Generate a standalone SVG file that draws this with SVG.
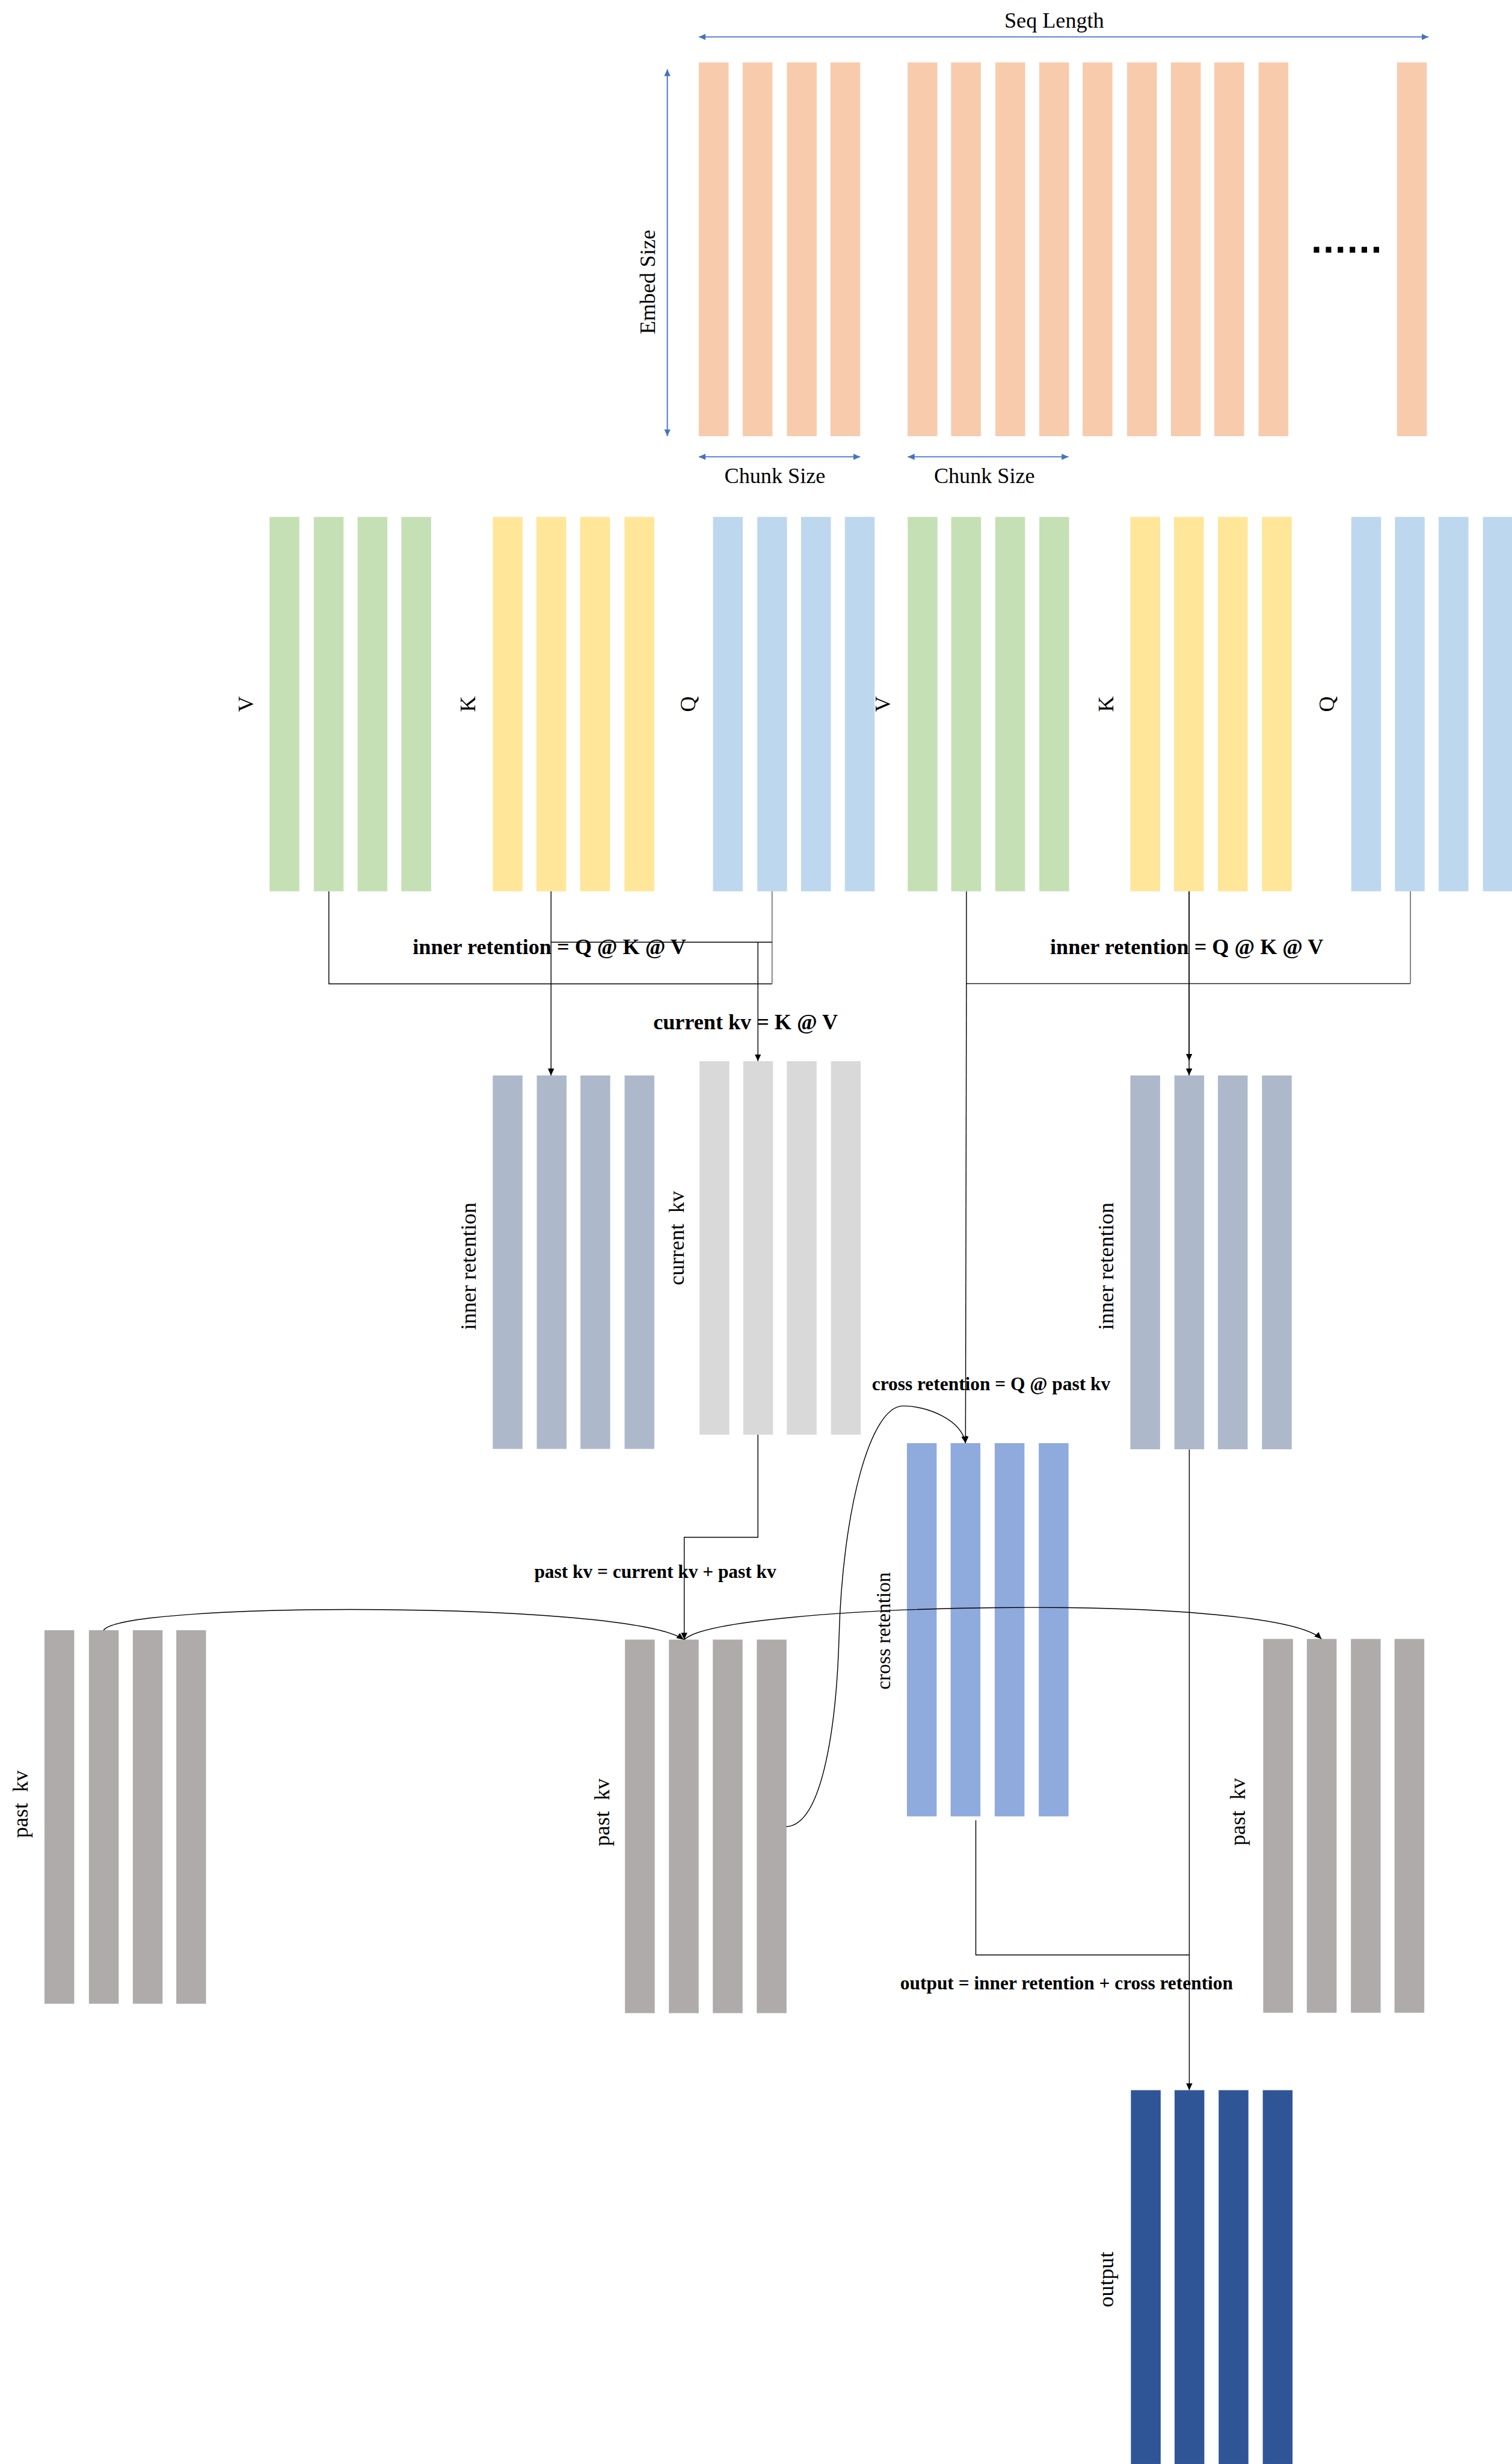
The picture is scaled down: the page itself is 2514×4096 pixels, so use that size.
<svg xmlns="http://www.w3.org/2000/svg" width="2514" height="4096" viewBox="0 0 2514 4096">
<style>
.t{font-family:"Liberation Serif","Times New Roman",serif;fill:#000}
.r{font-size:38px}
.b{font-weight:bold}
.or{fill:#F8CBAD}.gr{fill:#C5E0B4}.ye{fill:#FFE699}.bl{fill:#BDD7EE}
.ir{fill:#ADB9CA}.ck{fill:#D9D9D9}.cr{fill:#8FAADC}.pk{fill:#AFABAB}.ou{fill:#2F5597}
.ln{fill:none;stroke:#000;stroke-width:1.5}
.lg{fill:none;stroke:#7F7F7F;stroke-width:2}
.la{fill:none;stroke:#000;stroke-width:1.5;marker-end:url(#ah)}
.ba{fill:none;stroke:#4472C4;stroke-width:2;marker-start:url(#bh);marker-end:url(#bh)}
</style>
<defs>
<marker id="ah" markerUnits="userSpaceOnUse" markerWidth="14" markerHeight="12" refX="12" refY="5.5" orient="auto"><path d="M0,0 L12,5.5 L0,11 z" fill="#000"/></marker>
<marker id="bh" markerUnits="userSpaceOnUse" markerWidth="14" markerHeight="12" refX="12" refY="5.5" orient="auto-start-reverse"><path d="M0,0 L12,5.5 L0,11 z" fill="#4472C4"/></marker>
</defs>
<rect width="2514" height="4096" fill="#fff"/>
<g transform="scale(0.9516)">
<g id="sequence">
<rect class="or" x="1221" y="109" width="52" height="653"/>
<rect class="or" x="1297.7" y="109" width="52" height="653"/>
<rect class="or" x="1375" y="109" width="52" height="653"/>
<rect class="or" x="1451" y="109" width="52" height="653"/>
<rect class="or" x="1585.8" y="109" width="52" height="653"/>
<rect class="or" x="1661.8" y="109" width="52" height="653"/>
<rect class="or" x="1739.2" y="109" width="52" height="653"/>
<rect class="or" x="1815.9" y="109" width="52" height="653"/>
<rect class="or" x="1891.7" y="109" width="52" height="653"/>
<rect class="or" x="1969.3" y="109" width="52" height="653"/>
<rect class="or" x="2046" y="109" width="52" height="653"/>
<rect class="or" x="2121.8" y="109" width="52" height="653"/>
<rect class="or" x="2199" y="109" width="52" height="653"/>
<rect class="or" x="2441" y="109" width="52" height="653"/>
<text x="2291" y="441" font-family="Liberation Sans, Arial, sans-serif" font-weight="bold" font-size="68" letter-spacing="2" fill="#000">......</text>
<path class="ba" d="M1221,64.5 H2496"/>
<path class="ba" d="M1166,121 V762"/>
<path class="ba" d="M1221,798 H1503"/>
<path class="ba" d="M1586,798 H1867"/>
<text class="t r" x="1842" y="48" text-anchor="middle">Seq Length</text>
<text class="t r" transform="translate(1144,492.6) rotate(-90)" text-anchor="middle">Embed Size</text>
<text class="t r" x="1354" y="844" text-anchor="middle">Chunk Size</text>
<text class="t r" x="1720" y="844" text-anchor="middle">Chunk Size</text>
</g>
<g id="v1">
<rect class="gr" x="471" y="903" width="52" height="654"/>
<rect class="gr" x="548.3" y="903" width="52" height="654"/>
<rect class="gr" x="624.8" y="903" width="52" height="654"/>
<rect class="gr" x="701.3" y="903" width="52" height="654"/>
<text class="t r" transform="translate(442,1230) rotate(-90)" text-anchor="middle">V</text>
</g>
<g id="k1">
<rect class="ye" x="861" y="903" width="52" height="654"/>
<rect class="ye" x="937.3" y="903" width="52" height="654"/>
<rect class="ye" x="1013.8" y="903" width="52" height="654"/>
<rect class="ye" x="1091.2" y="903" width="52" height="654"/>
<text class="t r" transform="translate(830,1230) rotate(-90)" text-anchor="middle">K</text>
</g>
<g id="q1">
<rect class="bl" x="1245.8" y="903" width="52" height="654"/>
<rect class="bl" x="1323.2" y="903" width="52" height="654"/>
<rect class="bl" x="1399.7" y="903" width="52" height="654"/>
<rect class="bl" x="1476.2" y="903" width="52" height="654"/>
<text class="t r" transform="translate(1215,1230) rotate(-90)" text-anchor="middle">Q</text>
</g>
<g id="v2">
<rect class="gr" x="1586" y="903" width="52" height="654"/>
<rect class="gr" x="1662" y="903" width="52" height="654"/>
<rect class="gr" x="1739" y="903" width="52" height="654"/>
<rect class="gr" x="1816" y="903" width="52" height="654"/>
<text class="t r" transform="translate(1555,1230) rotate(-90)" text-anchor="middle">V</text>
</g>
<g id="k2">
<rect class="ye" x="1975" y="903" width="52" height="654"/>
<rect class="ye" x="2051.3" y="903" width="52" height="654"/>
<rect class="ye" x="2128" y="903" width="52" height="654"/>
<rect class="ye" x="2205" y="903" width="52" height="654"/>
<text class="t r" transform="translate(1945,1230) rotate(-90)" text-anchor="middle">K</text>
</g>
<g id="q2">
<rect class="bl" x="2361" y="903" width="52" height="654"/>
<rect class="bl" x="2437.3" y="903" width="52" height="654"/>
<rect class="bl" x="2513.8" y="903" width="52" height="654"/>
<rect class="bl" x="2591" y="903" width="52" height="654"/>
<text class="t r" transform="translate(2331,1230) rotate(-90)" text-anchor="middle">Q</text>
</g>
<g id="inner1">
<rect class="ir" x="861" y="1878.7" width="52" height="652.4"/>
<rect class="ir" x="937.9" y="1878.7" width="52" height="652.4"/>
<rect class="ir" x="1014.2" y="1878.7" width="52" height="652.4"/>
<rect class="ir" x="1091.3" y="1878.7" width="52" height="652.4"/>
<text class="t r" transform="translate(831,2212) rotate(-90)" text-anchor="middle">inner retention</text>
</g>
<g id="currentkv">
<rect class="ck" x="1222.3" y="1853.8" width="52" height="652.4"/>
<rect class="ck" x="1298.6" y="1853.8" width="52" height="652.4"/>
<rect class="ck" x="1374.8" y="1853.8" width="52" height="652.4"/>
<rect class="ck" x="1451.9" y="1853.8" width="52" height="652.4"/>
<text class="t r" transform="translate(1195,2163) rotate(-90)" text-anchor="middle" xml:space="preserve">current  kv</text>
</g>
<g id="inner2">
<rect class="ir" x="1975" y="1878.7" width="52" height="653"/>
<rect class="ir" x="2052" y="1878.7" width="52" height="653"/>
<rect class="ir" x="2128" y="1878.7" width="52" height="653"/>
<rect class="ir" x="2205" y="1878.7" width="52" height="653"/>
<text class="t r" transform="translate(1945,2212) rotate(-90)" text-anchor="middle">inner retention</text>
</g>
<g id="cross">
<rect class="cr" x="1584.6" y="2521" width="52" height="652"/>
<rect class="cr" x="1661" y="2521" width="52" height="652"/>
<rect class="cr" x="1738" y="2521" width="52" height="652"/>
<rect class="cr" x="1815" y="2521" width="52" height="652"/>
<text class="t" font-size="35" transform="translate(1555,2849) rotate(-90)" text-anchor="middle">cross retention</text>
</g>
<g id="pastkv1">
<rect class="pk" x="77.7" y="2847.8" width="52" height="652.5"/>
<rect class="pk" x="155.4" y="2847.8" width="52" height="652.5"/>
<rect class="pk" x="232.1" y="2847.8" width="52" height="652.5"/>
<rect class="pk" x="308" y="2847.8" width="52" height="652.5"/>
<text class="t r" transform="translate(48,3151.6) rotate(-90)" text-anchor="middle" xml:space="preserve">past  kv</text>
</g>
<g id="pastkv2">
<rect class="pk" x="1092" y="2864.2" width="52" height="652.5"/>
<rect class="pk" x="1168.8" y="2864.2" width="52" height="652.5"/>
<rect class="pk" x="1245.5" y="2864.2" width="52" height="652.5"/>
<rect class="pk" x="1322.3" y="2864.2" width="52" height="652.5"/>
<text class="t r" transform="translate(1064.5,3166) rotate(-90)" text-anchor="middle" xml:space="preserve">past  kv</text>
</g>
<g id="pastkv3">
<rect class="pk" x="2207.2" y="2863" width="52" height="653"/>
<rect class="pk" x="2283.4" y="2863" width="52" height="653"/>
<rect class="pk" x="2360.4" y="2863" width="52" height="653"/>
<rect class="pk" x="2436.6" y="2863" width="52" height="653"/>
<text class="t r" transform="translate(2175.5,3165) rotate(-90)" text-anchor="middle" xml:space="preserve">past  kv</text>
</g>
<g id="output">
<rect class="ou" x="1976" y="3651.3" width="52" height="653"/>
<rect class="ou" x="2052.3" y="3651.3" width="52" height="653"/>
<rect class="ou" x="2129.3" y="3651.3" width="52" height="653"/>
<rect class="ou" x="2206.4" y="3651.3" width="52" height="653"/>
<text class="t r" transform="translate(1945,3982) rotate(-90)" text-anchor="middle">output</text>
</g>
<g id="connectors">
<path class="ln" d="M574.6,1557 V1718.6 H1349"/>
<path class="lg" d="M1349,1557 V1718.6"/>
<path class="ln" d="M962.8,1646 H1349"/>
<path class="la" d="M962.8,1557 V1878.7"/>
<path class="la" d="M1324.3,1646 V1853.8"/>
<path class="ln" d="M1688.6,1557 V1718.3 H2464.4"/>
<path class="lg" d="M2464.4,1557 V1718.3"/>
<path class="la" d="M1688.6,1718 L1687,2521"/>
<path class="la" d="M2077.7,1557 V1853"/>
<path class="la" d="M2077.7,1557 V1878.7"/>
<path class="la" d="M1324.3,2506.2 V2685.4 H1195.5 V2864.2"/>
<path class="la" d="M181,2848 C215,2797 1100,2797 1194.5,2864"/>
<path class="la" d="M1196,2864 C1260,2800 2220,2780 2309,2863"/>
<path class="la" d="M1374,3191 C1440,3188 1462,3000 1466,2860 C1472,2640 1520,2456 1578,2456 C1620,2456 1680,2480 1687,2521"/>
<path class="ln" d="M1705,3180 V3415 H2078"/>
<path class="la" d="M2078,2532 V3651.3"/>
</g>
<g id="labels">
<text class="t b" font-size="38" x="960" y="1667" text-anchor="middle">inner retention = Q @ K @ V</text>
<text class="t b" font-size="38" x="2073.6" y="1667" text-anchor="middle">inner retention = Q @ K @ V</text>
<text class="t b" font-size="38" x="1302.7" y="1797.7" text-anchor="middle">current kv = K @ V</text>
<text class="t b" font-size="33" x="1731.8" y="2429" text-anchor="middle">cross retention = Q @ past kv</text>
<text class="t b" font-size="33" x="1145" y="2756" text-anchor="middle">past kv = current kv + past kv</text>
<text class="t b" font-size="33" x="1863.6" y="3475" text-anchor="middle">output = inner retention + cross retention</text>
</g>
</g>
</svg>
